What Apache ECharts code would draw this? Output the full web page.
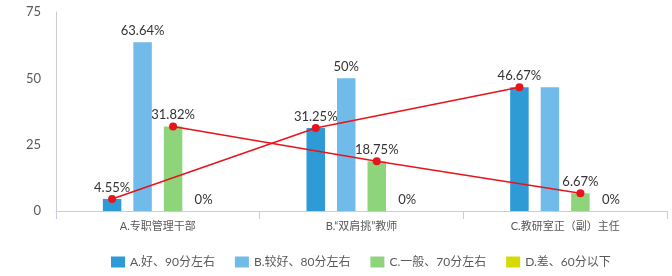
<!DOCTYPE html>
<html>
<head>
<meta charset="utf-8">
<script src="https://cdn.jsdelivr.net/npm/echarts@6/dist/echarts.min.js"></script>
<style>html,body{margin:0;padding:0;background:#fff}#c{width:672px;height:276px}</style>
</head>
<body>
<div id="c"></div>
<script>
const categories = ['A.专职管理干部', 'B.“双肩挑”教师', 'C.教研室正（副）主任'];
const seriesNames = ['A.好、90分左右', 'B.较好、80分左右', 'C.一般、70分左右', 'D.差、60分以下'];
const good = [4.55, 31.25, 46.67];
const fairlyGood = [63.64, 50, 46.67];
const average = [31.82, 18.75, 6.67];
const poor = [0, 0, 0];
const yMin = 0, yMax = 75, yStep = 25;
// labels hidden in the reference: [seriesIndex, categoryIndex]
const hiddenLabels = [[1, 2]];

const colors = ['#2E9BD6', '#70BBEA', '#8DD47B', '#D5DA00'];
const values = [good, fairlyGood, average, poor];
const barCatGap = 0.46, barGapR = 0.65, nBars = 4;
const pitchFrac = (1 - barCatGap) * (1 + barGapR) / (nBars + (nBars - 1) * barGapR);
const fontFam = 'Lato, "Noto Sans CJK SC", sans-serif';

function lineData(arr, barIdx) {
  return arr.map((v, i) => [i + 0.5 + (barIdx - (nBars - 1) / 2) * pitchFrac, v]);
}

const barSeries = values.map((arr, s) => ({
  name: seriesNames[s],
  type: 'bar',
  xAxisIndex: 0,
  barGap: (barGapR * 100) + '%',
  barCategoryGap: (barCatGap * 100) + '%',
  itemStyle: { color: colors[s] },
  label: {
    show: true, position: 'top', distance: 5,
    formatter: p => p.value + '%',
    color: '#333', fontSize: 13, fontFamily: fontFam
  },
  data: arr.map((v, i) => hiddenLabels.some(h => h[0] === s && h[1] === i)
    ? { value: v, label: { show: false } } : v)
}));

const lineStyle = {
  type: 'line', xAxisIndex: 1, z: 5,
  symbol: 'circle', symbolSize: 8,
  itemStyle: { color: '#E8141C' },
  lineStyle: { color: '#E8141C', width: 1.5 },
  label: { show: false }, silent: true
};

const chart = echarts.init(document.getElementById('c'));
chart.setOption({
  animation: false,
  textStyle: { fontFamily: fontFam },
  grid: { left: 56, right: 5, top: 12, bottom: 65 },
  legend: {
    data: seriesNames,
    left: 106, top: 251,
    itemWidth: 14, itemHeight: 11, itemGap: 20,
    icon: 'rect',
    textStyle: { fontSize: 12, color: '#595959', fontFamily: fontFam }
  },
  xAxis: [{
    type: 'category', data: categories,
    axisLine: { lineStyle: { color: '#C9CDD9' } },
    axisTick: { show: true, length: 8, lineStyle: { color: '#C9CDD9' } },
    axisLabel: { color: '#595959', fontSize: 11, margin: 10 }
  }, {
    type: 'value', min: 0, max: categories.length, show: false
  }],
  yAxis: {
    type: 'value', min: yMin, max: yMax, interval: yStep,
    axisLine: { show: true, lineStyle: { color: '#C9CDD9' } },
    axisTick: { show: false },
    splitLine: { show: false },
    axisLabel: { color: '#595959', fontSize: 13, margin: 15 }
  },
  series: barSeries.concat([
    Object.assign({ name: 'line1', data: lineData(good, 0) }, lineStyle),
    Object.assign({ name: 'line2', data: lineData(average, 2) }, lineStyle)
  ])
});
</script>
</body>
</html>
